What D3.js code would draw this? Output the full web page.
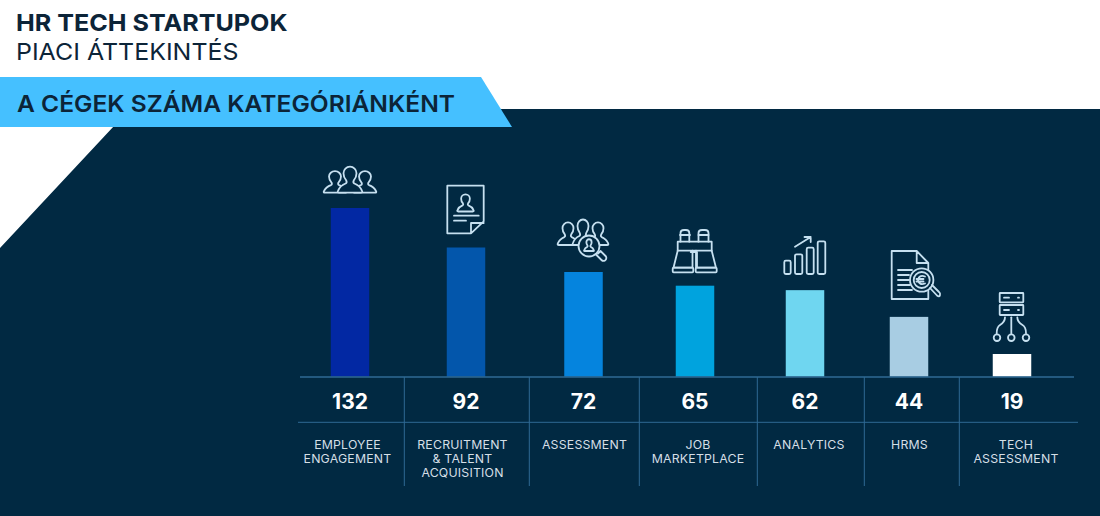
<!DOCTYPE html>
<html>
<head>
<meta charset="utf-8">
<script src="https://cdn.jsdelivr.net/npm/d3@7"></script>
<style>
	html, body { margin: 0; padding: 0; background: #fff; }
	svg { display: block; }
	text { font-family: Inter, "Noto Sans", sans-serif; }
</style>
</head>
<body>
<svg id="chart" width="1100" height="516"></svg>
<script>
const categories = ['EMPLOYEE ENGAGEMENT', 'RECRUITMENT & TALENT ACQUISITION', 'ASSESSMENT', 'JOB MARKETPLACE', 'ANALYTICS', 'HRMS', 'TECH ASSESSMENT'];
const categoryLines = [['EMPLOYEE', 'ENGAGEMENT'], ['RECRUITMENT', '& TALENT', 'ACQUISITION'], ['ASSESSMENT'], ['JOB', 'MARKETPLACE'], ['ANALYTICS'], ['HRMS'], ['TECH', 'ASSESSMENT']];
const companies = [132, 92, 72, 65, 62, 44, 19];
const barColors = ['#0228a3', '#0356ab', '#0584de', '#00a3de', '#6fd6f0', '#a8cde3', '#ffffff'];

const dark = '#012942';
const rule = '#2f6a94';
const iconColor = '#c6e0f0';
const svg = d3.select('#chart');

// background shapes
svg.append('polygon').attr('fill', dark)
	.attr('points', '470,109 1100,109 1100,516 0,516 0,248 114,126 470,126');
svg.append('polygon').attr('fill', '#45c0ff')
	.attr('points', '0,77 481,77 512,127 0,127');

// columns are not evenly wide in the original
const x = d3.scaleOrdinal(categories, [350, 466, 583.5, 695, 805, 909, 1012]);
const labelX = d3.scaleOrdinal(categories, [347.5, 462.5, 584.5, 698, 809, 909.5, 1016]);
// the original bars are not strictly proportional, so the scale has a few bends
const y = d3.scaleLinear().domain([0, 19, 65, 72, 92, 132]).range([376.7, 354, 285.7, 272, 247.5, 208]);
const barWidth = 38.5;

svg.selectAll('.bar')
	.data(categories)
	.enter()
	.append('rect')
	.attr('class', 'bar')
	.attr('x', d => x(d) - barWidth / 2)
	.attr('y', (d, i) => y(companies[i]))
	.attr('width', barWidth)
	.attr('height', (d, i) => y(0) - y(companies[i]))
	.attr('fill', (d, i) => barColors[i]);

// table rules
const ruleLine = (x1, y1, x2, y2, w) => svg.append('line')
	.attr('x1', x1).attr('y1', y1).attr('x2', x2).attr('y2', y2)
	.attr('stroke', rule).attr('stroke-width', w);
ruleLine(300, 377, 1074, 377, 1.5);
ruleLine(298, 422.3, 1078, 422.3, 1);
[404.3, 529.3, 639.3, 757.3, 864.3, 959.3].forEach(v => ruleLine(v, 377, v, 486, 1));

svg.selectAll('.value')
	.data(categories)
	.enter()
	.append('text')
	.attr('class', 'value')
	.attr('x', d => x(d))
	.attr('y', 409)
	.attr('text-anchor', 'middle')
	.attr('fill', '#fff')
	.attr('font-size', 21)
	.attr('font-weight', 700)
	.text((d, i) => companies[i]);

svg.selectAll('.label')
	.data(categories)
	.enter()
	.append('text')
	.attr('class', 'label')
	.attr('text-anchor', 'middle')
	.attr('fill', '#d5dfe6')
	.attr('font-size', 12.3)
	.attr('letter-spacing', 0.2)
	.each(function (d, i) {
		d3.select(this).selectAll('tspan')
			.data(categoryLines[i])
			.enter()
			.append('tspan')
			.attr('x', labelX(d))
			.attr('y', (l, j) => 448.5 + j * 14.2)
			.text(l => l);
	});

// headings, stretched to the width of the original wide typeface
const heading = (str, px, py, weight, len) => svg.append('text')
	.attr('x', px).attr('y', py)
	.attr('fill', '#0c2438')
	.attr('font-size', 23.5)
	.attr('font-weight', weight)
	.attr('textLength', len)
	.attr('lengthAdjust', 'spacingAndGlyphs')
	.text(str);
heading('HR TECH STARTUPOK', 16, 31, 700, 271.5);
heading('PIACI ÁTTEKINTÉS', 16, 59.5, 400, 222.5);
heading('A CÉGEK SZÁMA KATEGÓRIÁNKÉNT', 17, 112, 600, 438);

// icons
const icons = svg.append('g')
	.attr('fill', 'none')
	.attr('stroke', iconColor)
	.attr('stroke-width', 1.8)
	.attr('stroke-linecap', 'round')
	.attr('stroke-linejoin', 'round');

const addPath = d => icons.append('path').attr('d', d);
const addCircle = (cx, cy, r, fill) => icons.append('circle')
	.attr('cx', cx).attr('cy', cy).attr('r', r).attr('fill', fill || 'none');
const addRect = (rx, ry, rw, rh, r) => icons.append('rect')
	.attr('x', rx).attr('y', ry).attr('width', rw).attr('height', rh).attr('rx', r || 0);

// head and shoulders, w wide and h high, centred on cx and standing on base
const bust = (cx, base, w, h) => icons.append('path')
	.attr('transform', `translate(${cx - w / 2},${base - h}) scale(${w / 24},${h / 26})`)
	.attr('vector-effect', 'non-scaling-stroke')
	.attr('fill', dark)
	.attr('d', 'M2 26Q0 26 1 24Q3 19 8 17Q9.5 16 8.5 14Q6 11 6 7A6 6.5 0 0 1 18 7Q18 11 15.5 14Q14.5 16 16 17Q21 19 23 24Q24 26 22 26Z');

// employee engagement
bust(335, 192.7, 24, 22);
bust(365, 192.7, 24, 22);
bust(350, 192.7, 26, 26.5);

// recruitment
addPath('M471 233.3H447.3V185.7H483.7V221.3L471 233.3V223H483.7');
bust(465.5, 211.5, 17.5, 17.5);
addPath('M454 215.7H478.7M454 220.7H466');

// assessment
bust(568, 245, 22, 23);
bust(598, 245, 22, 23);
bust(583, 245, 22, 26);
addCircle(589, 246, 10.5, dark);
bust(589, 251, 10.5, 12);
addPath('M598 253.5L600.5 251L606 256.5Q607 259 605 260.5Q603 261.5 601.5 260L596 254.5');

// job marketplace
addPath('M680.5 241.7V233Q680.5 230 684 230H686Q689.3 230 689.3 233V241.7');
addPath('M680 235H690M698.5 235H708.5');
addPath('M698.5 241.7V233Q698.5 230 702 230H705Q708.5 230 708.5 233V241.7');
addRect(677.7, 241.7, 34, 9);
addPath('M677.7 250.7L673.5 267.7H692.5V250.7M711.7 250.7L716 267.7H696V250.7M690.7 252H697V267.7');
addRect(672.7, 267.7, 20.6, 4.6, 1);
addRect(695.7, 267.7, 21, 4.6, 1);

// analytics
addRect(784.3, 260.7, 6.4, 13.3, 1.5);
addRect(795, 254.3, 7.3, 19.7, 1.5);
addRect(806.7, 247.7, 7, 26.3, 1.5);
addRect(817.7, 241.3, 7.6, 32.7, 1.5);
addPath('M795 246.7L810.7 237M804.5 237H810.7V242');

// hrms
addPath('M928.3 263V299H891.7V251H916.7ZM916.7 251V263H928.3');
addPath('M898 270H912M898 275H909M898 280H909M898 285H910M898 290H912');
addCircle(921.7, 280, 11.7, dark);
addCircle(921.7, 280, 8);
addPath('M925 276.5Q919 274.5 918 280Q919 285.5 925 283.5M916.5 279H923.5M916.5 281.5H923.5');
addPath('M930 288L937 295.5Q939.5 297.5 940 295Q940.5 293 939 292L932 285');

// tech assessment
addRect(999.7, 293, 23.6, 9.3, 0.5);
addRect(999.7, 305, 23.6, 10, 0.5);
addPath('M1004 297.7H1009M1018 297.7H1019M1004 310H1009M1018 310H1019');
addPath('M1011.3 317.3V333.3');
addPath('M1005 317.3Q1005 322 1000 325Q996.7 327 996.7 333.3');
addPath('M1017.3 317.3Q1017.3 322 1022.5 325Q1026 327 1026 333.3');
[997, 1011.3, 1026].forEach(v => addCircle(v, 337.7, 3.3));
</script>
</body>
</html>
